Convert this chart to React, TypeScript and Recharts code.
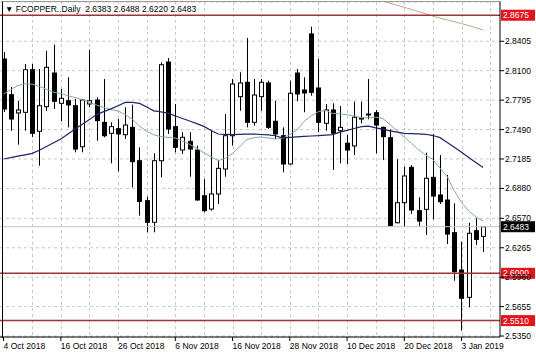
import React from 'react';
import { ComposedChart, Bar, Line, XAxis, YAxis, CartesianGrid, ReferenceLine } from 'recharts';

const dates = [
  '4 Oct 2018', '5 Oct 2018', '8 Oct 2018', '9 Oct 2018', '10 Oct 2018', '11 Oct 2018', '12 Oct 2018', '15 Oct 2018',
  '16 Oct 2018', '17 Oct 2018', '18 Oct 2018', '19 Oct 2018', '22 Oct 2018', '23 Oct 2018', '24 Oct 2018', '25 Oct 2018',
  '26 Oct 2018', '29 Oct 2018', '30 Oct 2018', '31 Oct 2018', '1 Nov 2018', '2 Nov 2018', '4 Nov 2018', '5 Nov 2018',
  '6 Nov 2018', '7 Nov 2018', '8 Nov 2018', '9 Nov 2018', '12 Nov 2018', '13 Nov 2018', '14 Nov 2018', '15 Nov 2018',
  '16 Nov 2018', '19 Nov 2018', '20 Nov 2018', '21 Nov 2018', '22 Nov 2018', '23 Nov 2018', '26 Nov 2018', '27 Nov 2018',
  '28 Nov 2018', '29 Nov 2018', '30 Nov 2018', '3 Dec 2018', '4 Dec 2018', '5 Dec 2018', '6 Dec 2018', '7 Dec 2018',
  '10 Dec 2018', '11 Dec 2018', '12 Dec 2018', '13 Dec 2018', '14 Dec 2018', '17 Dec 2018', '18 Dec 2018', '19 Dec 2018',
  '20 Dec 2018', '21 Dec 2018', '24 Dec 2018', '26 Dec 2018', '27 Dec 2018', '28 Dec 2018', '31 Dec 2018', '2 Jan 2019',
  '3 Jan 2019', '4 Jan 2019', '7 Jan 2019', '8 Jan 2019',
];

const tickDates = [
  '4 Oct 2018', '16 Oct 2018', '26 Oct 2018', '6 Nov 2018', '16 Nov 2018',
  '28 Nov 2018', '10 Dec 2018', '20 Dec 2018', '3 Jan 2019',
];

const openPrices = [
  2.8221, 2.7851, 2.7662, 2.7669, 2.811, 2.7472, 2.7727, 2.8076, 2.7762, 2.7789, 2.7737, 2.7312, 2.7755, 2.7796, 2.7565, 2.7451,
  2.7499, 2.7437, 2.7513, 2.7167, 2.6753, 2.6529, 2.7167, 2.819, 2.752, 2.7278, 2.7368, 2.7278, 2.6804, 2.6666, 2.6822, 2.7081,
  2.7426, 2.7831, 2.798, 2.7565, 2.7831, 2.7973, 2.7576, 2.7426, 2.7133, 2.8076, 2.79, 2.8481, 2.7921, 2.7555, 2.7693, 2.7478,
  2.7348, 2.732, 2.7599, 2.7641, 2.7665, 2.7513, 2.7406, 2.6524, 2.6732, 2.7099, 2.6649, 2.6663, 2.6995, 2.6812, 2.676, 2.6421,
  2.6034, 2.5751, 2.6442, 2.6383,
];
const highPrices = [
  2.8294, 2.7931, 2.7786, 2.817, 2.817, 2.8118, 2.8307, 2.837, 2.791, 2.8032, 2.7807, 2.7807, 2.8318, 2.7824, 2.8014, 2.7565,
  2.7599, 2.7721, 2.7748, 2.7306, 2.6794, 2.7244, 2.8187, 2.8232, 2.7755, 2.7462, 2.7462, 2.7323, 2.6977, 2.7478, 2.7167, 2.7651,
  2.8014, 2.8083, 2.8439, 2.8014, 2.8014, 2.7996, 2.7789, 2.7513, 2.7996, 2.8118, 2.8032, 2.8556, 2.8221, 2.7755, 2.7762, 2.7734,
  2.7434, 2.7779, 2.7779, 2.8014, 2.7693, 2.752, 2.7493, 2.7182, 2.7105, 2.7123, 2.6788, 2.725, 2.7444, 2.7226, 2.7019, 2.6726,
  2.6328, 2.6524, 2.657, 2.6488,
];
const lowPrices = [
  2.7672, 2.7478, 2.7333, 2.7478, 2.7413, 2.7115, 2.7685, 2.7703, 2.7576, 2.7513, 2.7254, 2.7254, 2.7721, 2.7374, 2.741, 2.714,
  2.7057, 2.7392, 2.6891, 2.6597, 2.6425, 2.6425, 2.6995, 2.7444, 2.7254, 2.7237, 2.7001, 2.6753, 2.6632, 2.6649, 2.6718, 2.7001,
  2.7323, 2.7685, 2.7513, 2.753, 2.7685, 2.7496, 2.7392, 2.7047, 2.7126, 2.7783, 2.7669, 2.7841, 2.7462, 2.7478, 2.7071, 2.714,
  2.7133, 2.7226, 2.7555, 2.7596, 2.7244, 2.7174, 2.649, 2.6518, 2.6483, 2.6615, 2.649, 2.6397, 2.656, 2.6718, 2.6304, 2.5923,
  2.5405, 2.5648, 2.6293, 2.622,
];
const closePrices = [
  2.7703, 2.7599, 2.7693, 2.811, 2.7451, 2.7737, 2.8135, 2.7783, 2.7814, 2.7745, 2.7288, 2.7796, 2.7789, 2.7582, 2.7426, 2.752,
  2.7444, 2.7537, 2.7157, 2.6746, 2.6529, 2.7167, 2.8162, 2.7496, 2.7306, 2.741, 2.7288, 2.676, 2.6649, 2.6822, 2.7088, 2.7426,
  2.7962, 2.7973, 2.7565, 2.7848, 2.798, 2.7513, 2.7444, 2.7133, 2.7866, 2.7859, 2.7869, 2.7876, 2.7565, 2.7693, 2.7451, 2.7513,
  2.7278, 2.7617, 2.761, 2.7651, 2.7537, 2.7416, 2.6493, 2.6732, 2.7009, 2.6656, 2.6542, 2.6985, 2.6801, 2.6742, 2.6407, 2.6017,
  2.5741, 2.6415, 2.6352, 2.6483,
];

// short moving average (grey-green)
const maFast = [
  2.7859, 2.7903, 2.7946, 2.7965, 2.796, 2.7937, 2.7907, 2.7876, 2.7864, 2.784, 2.7821, 2.7801, 2.7771, 2.7744, 2.7718, 2.7697,
  2.7682, 2.7646, 2.7598, 2.7524, 2.7471, 2.7435, 2.7416, 2.7409, 2.7402, 2.737, 2.7337, 2.7295, 2.7249, 2.7208, 2.7168, 2.7192,
  2.7244, 2.7314, 2.7387, 2.7405, 2.7413, 2.7402, 2.7392, 2.7399, 2.7439, 2.7485, 2.7575, 2.7633, 2.7675, 2.769, 2.7657, 2.7651,
  2.7644, 2.7632, 2.7613, 2.7611, 2.7618, 2.7605, 2.7542, 2.7476, 2.7412, 2.7347, 2.7279, 2.7225, 2.7179, 2.7089, 2.7003, 2.6854,
  2.6735, 2.6645, 2.6586, 2.654,
];
// longer moving average (navy)
const maSlow = [
  2.7185, 2.7199, 2.7214, 2.7228, 2.7243, 2.7275, 2.7314, 2.7354, 2.7393, 2.7445, 2.7496, 2.7546, 2.7593, 2.7645, 2.7676, 2.7704,
  2.7737, 2.7771, 2.7772, 2.7761, 2.7723, 2.7684, 2.7673, 2.766, 2.7631, 2.7605, 2.7579, 2.7551, 2.7523, 2.7481, 2.7444, 2.744,
  2.7437, 2.744, 2.7442, 2.7443, 2.7439, 2.7434, 2.7426, 2.7402, 2.7409, 2.7415, 2.7419, 2.7423, 2.7427, 2.7433, 2.7438, 2.7463,
  2.7482, 2.7501, 2.752, 2.7525, 2.7507, 2.7494, 2.7476, 2.7463, 2.7451, 2.7448, 2.7445, 2.7441, 2.7428, 2.7406, 2.7357, 2.7306,
  2.7254, 2.72, 2.7149, 2.7097,
];
// long moving average (tan), only its tail is inside the window
const maLong: (number | null)[] = [
  ...Array(51).fill(null),
  2.8866, 2.8843, 2.8821, 2.88, 2.8778, 2.8757, 2.8735, 2.8712, 2.8688, 2.8666, 2.8645, 2.8626, 2.8607, 2.8588, 2.8568, 2.8546,
  2.8522,
];

const yTicks = [2.8405, 2.81, 2.7795, 2.749, 2.7185, 2.688, 2.657, 2.6265, 2.596, 2.5655, 2.535];
const levels = [2.8675, 2.6, 2.551];

const FONT = '"Liberation Sans", Arial, sans-serif';
const PAD_RIGHT = 13.4;

const data = dates.map((date, i) => ({
  date,
  open: openPrices[i],
  high: highPrices[i],
  low: lowPrices[i],
  close: closePrices[i],
  range: [lowPrices[i], highPrices[i]],
  maFast: maFast[i],
  maSlow: maSlow[i],
  maLong: maLong[i],
}));

const last = data[data.length - 1];

const Candle = (props: any) => {
  const { x, y, width, height, payload } = props;
  if (x == null || y == null) return null;
  const top = Math.min(y, y + height);
  const h = Math.abs(height);
  const span = payload.high - payload.low || 1;
  const toY = (v: number) => top + ((payload.high - v) / span) * h;
  const cx = Math.round(x + width / 2) + 0.5;
  const bull = payload.close >= payload.open;
  const bTop = toY(Math.max(payload.open, payload.close));
  const bBot = toY(Math.min(payload.open, payload.close));
  return (
    <g>
      <line x1={cx} x2={cx} y1={top} y2={top + h} stroke="#000" strokeWidth={1} />
      <rect
        x={cx - 2}
        y={bTop}
        width={4}
        height={Math.max(bBot - bTop, 1)}
        fill={bull ? '#fff' : '#000'}
        stroke="#000"
        strokeWidth={1}
      />
    </g>
  );
};

const PriceTag = ({ viewBox, text, bg }: any) => {
  if (!viewBox) return null;
  const x = viewBox.x + viewBox.width + 1;
  const y = viewBox.y;
  return (
    <g>
      <rect x={x} y={y - 5.5} width={34} height={11} fill={bg} />
      <text x={x + 2} y={y} dy="0.35em" fill="#fff" fontSize={8.5} fontFamily={FONT}>
        {text}
      </text>
    </g>
  );
};

// grid every 4 bars, like the terminal
const verticalGrid = (args: any) => {
  const left = args?.offset?.left ?? 0;
  const w = args?.offset?.width ?? 500;
  const band = (w - PAD_RIGHT) / dates.length;
  const out: number[] = [];
  for (let i = 4; i <= dates.length; i += 4) out.push(Math.round(left + band * (i + 0.5)) + 0.5);
  return out;
};

const App: React.FC = () => {
  return (
    <div style={{ position: 'absolute', left: 0, top: 0, width: 536, height: 357, background: '#fff' }}>
      <ComposedChart width={536} height={357} data={data} margin={{ top: 2, right: 0, bottom: 0, left: 0 }}>
        <CartesianGrid stroke="#c8c8c8" strokeDasharray="3 3" verticalCoordinatesGenerator={verticalGrid} />
        <XAxis
          dataKey="date"
          type="category"
          ticks={tickDates}
          interval={0}
          height={20}
          padding={{ left: 0, right: PAD_RIGHT }}
          axisLine={{ stroke: '#000' }}
          tickLine={{ stroke: '#000' }}
          tickSize={4}
          tickMargin={2}
          tick={{ fontSize: 8.5, fill: '#000', fontFamily: FONT, textAnchor: 'start' }}
        />
        <YAxis
          orientation="right"
          width={36}
          domain={[2.534, 2.8812]}
          allowDataOverflow
          ticks={yTicks}
          interval={0}
          tickFormatter={(v: number) => v.toFixed(4)}
          axisLine={{ stroke: '#000' }}
          tickLine={{ stroke: '#000' }}
          tickSize={4}
          tickMargin={1}
          tick={{ fontSize: 8.5, fill: '#000', fontFamily: FONT }}
        />
        <Line type="linear" dataKey="maLong" stroke="#c2a683" strokeWidth={1} dot={false} isAnimationActive={false} />
        <Line type="linear" dataKey="maFast" stroke="#86aaa2" strokeWidth={1} dot={false} isAnimationActive={false} />
        <Line type="linear" dataKey="maSlow" stroke="#1f2565" strokeWidth={1.2} dot={false} isAnimationActive={false} />
        <Bar dataKey="range" barSize={5} shape={<Candle />} isAnimationActive={false} />
        <ReferenceLine
          y={last.close}
          stroke="#c4c4c4"
          strokeWidth={1}
          label={<PriceTag text={last.close.toFixed(4)} bg="#000" />}
        />
        {levels.map((lv) => (
          <ReferenceLine
            key={lv}
            y={lv}
            stroke="#a3313d"
            strokeWidth={1.5}
            label={<PriceTag text={lv.toFixed(4)} bg="#e3141b" />}
          />
        ))}
      </ComposedChart>
      <div
        style={{
          position: 'absolute',
          left: 2,
          top: 1,
          width: 498,
          height: 336,
          borderLeft: '1px solid #000',
          borderTop: '1px solid #9a9a9a',
          pointerEvents: 'none',
        }}
      />
      <div
        style={{
          position: 'absolute',
          left: 5,
          top: 4,
          fontFamily: FONT,
          fontSize: 8.5,
          lineHeight: '10px',
          color: '#000',
          whiteSpace: 'pre',
          background: '#fff',
        }}
      >
        {`\u25BC FCOPPER..Daily  ${last.open.toFixed(4)} ${last.high.toFixed(4)} ${last.low.toFixed(4)} ${last.close.toFixed(4)}`}
      </div>
    </div>
  );
};

export default App;
